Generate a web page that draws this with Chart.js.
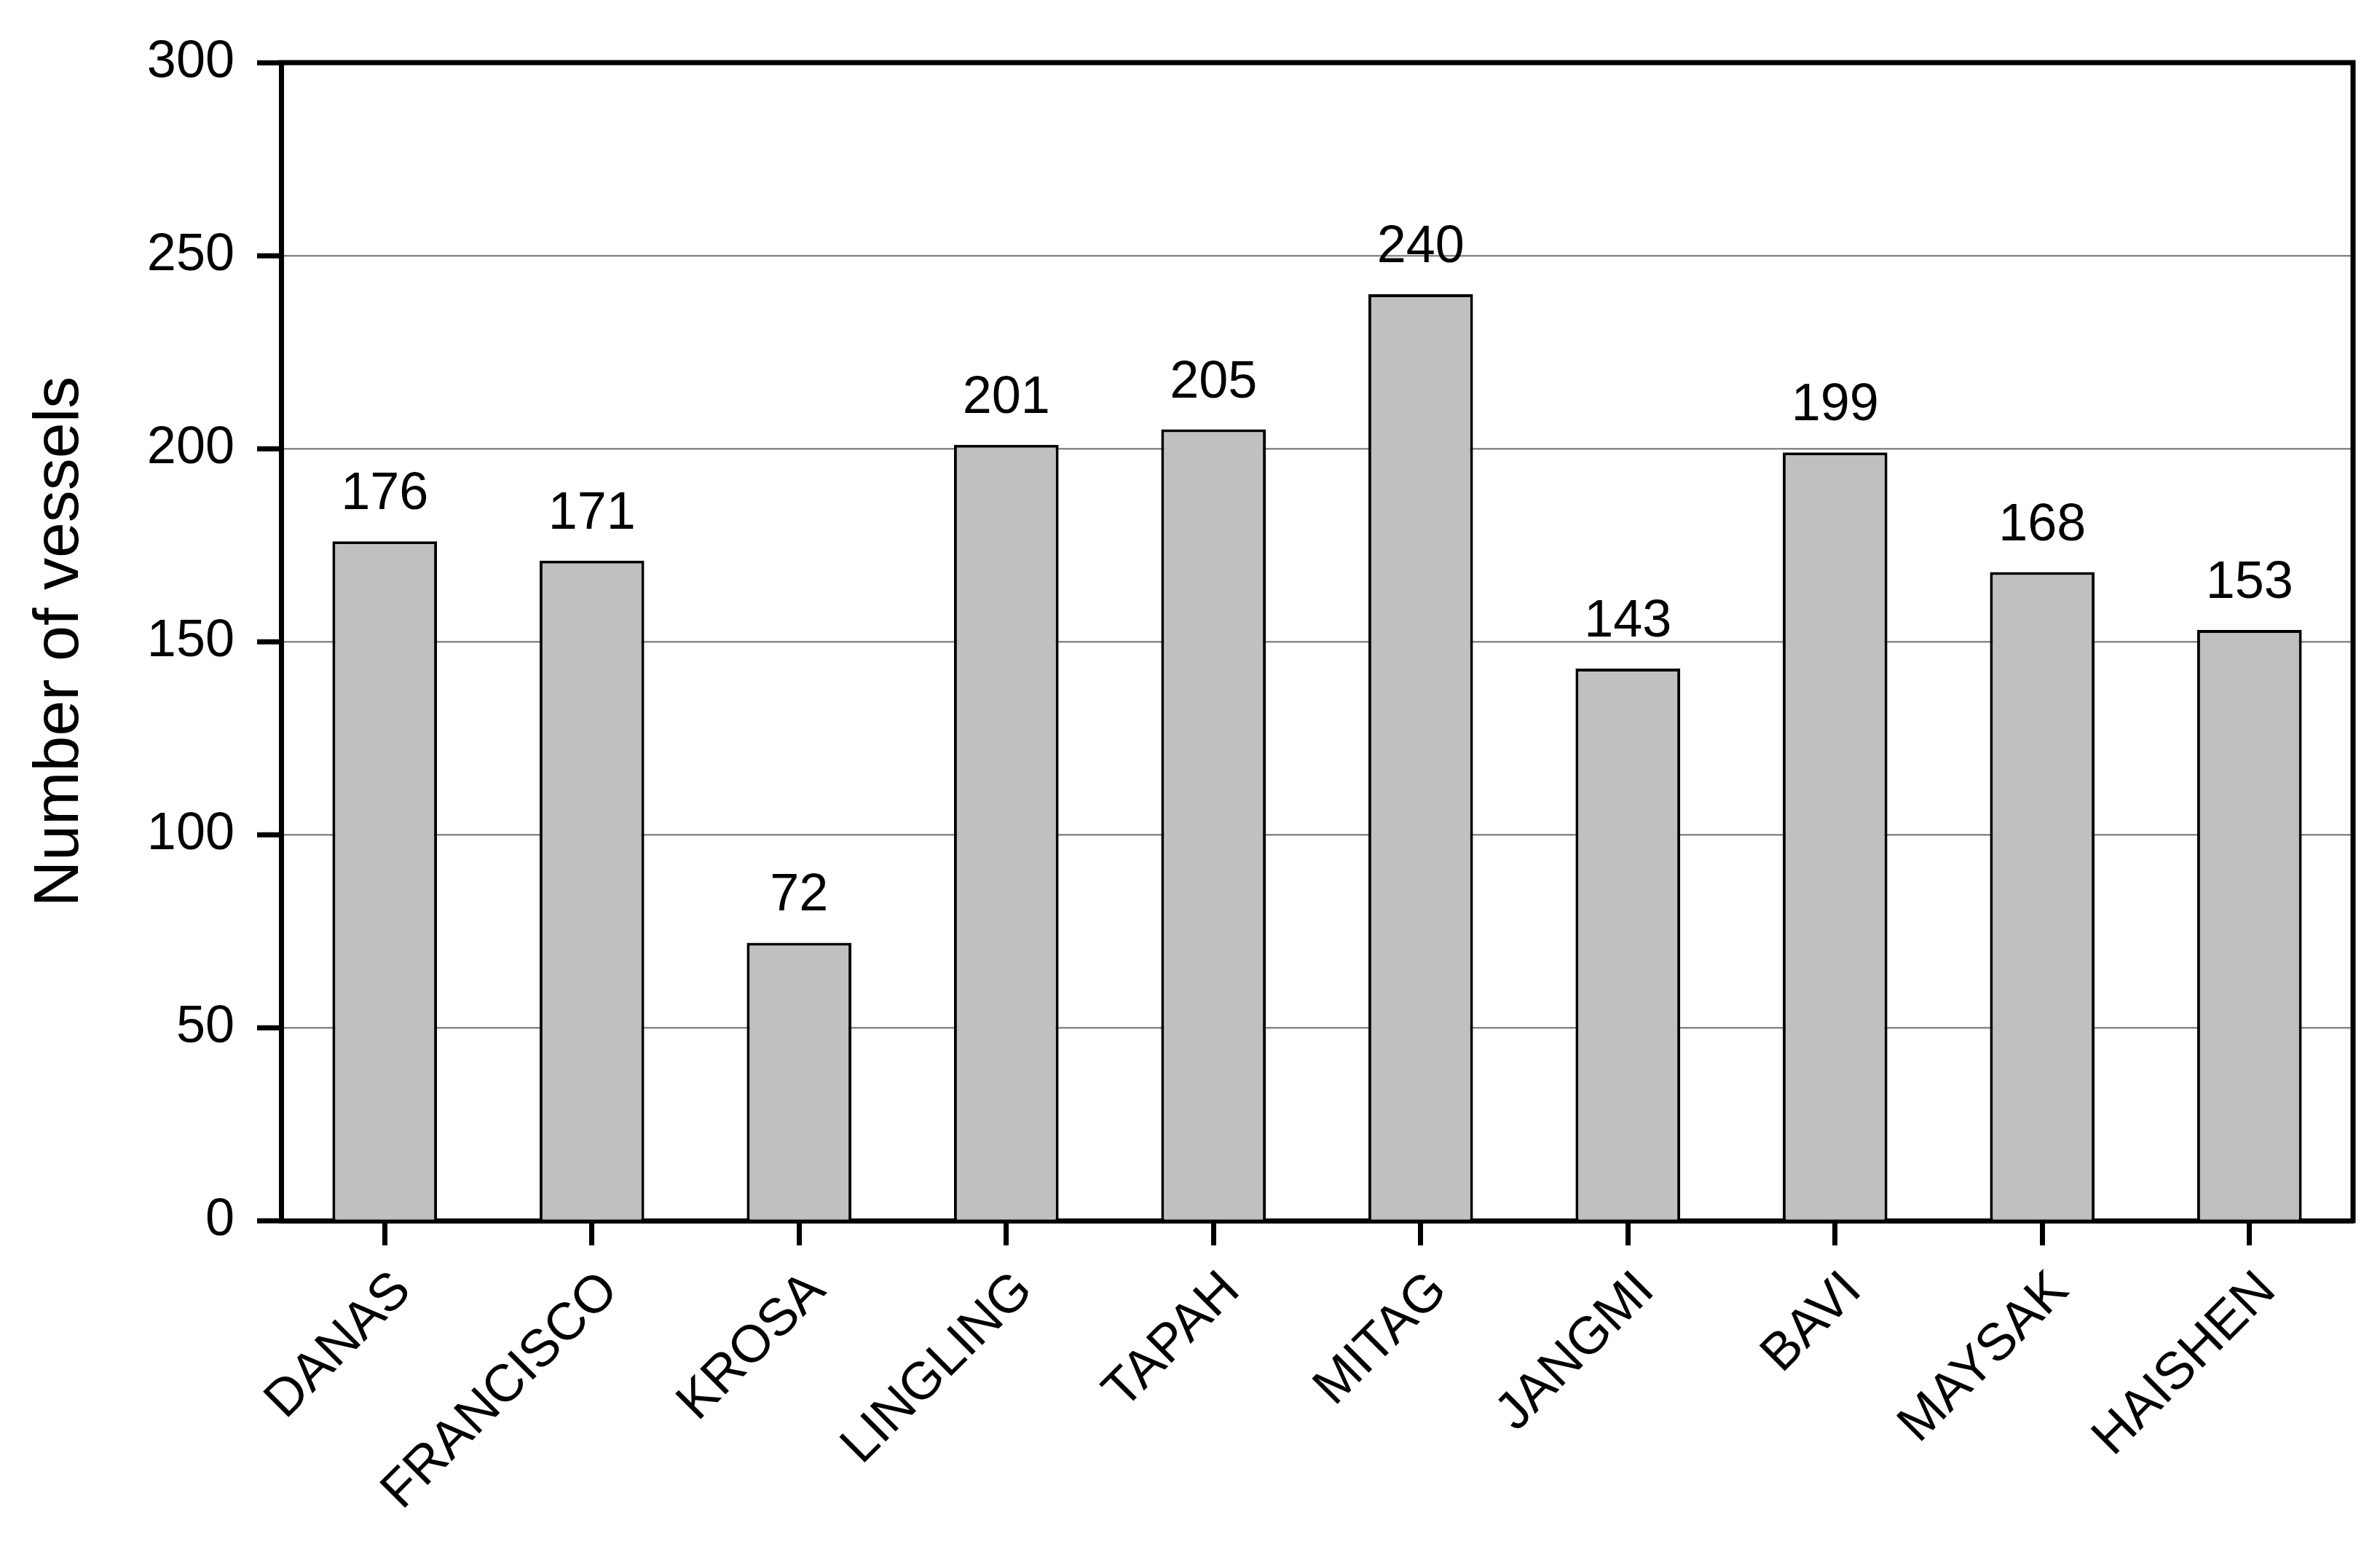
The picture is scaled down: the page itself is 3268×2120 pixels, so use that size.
<!DOCTYPE html>
<html>
<head>
<meta charset="utf-8">
<script src="https://cdn.jsdelivr.net/npm/chart.js@4/dist/chart.umd.min.js"></script>
<style>
  html, body { margin: 0; padding: 0; background: #ffffff; }
  #wrap { width: 3268px; height: 2120px; }
</style>
</head>
<body>
<div id="wrap"><canvas id="c" width="3268" height="2120"></canvas></div>
<script>
const categories = ["DANAS", "FRANCISCO", "KROSA", "LINGLING", "TAPAH", "MITAG", "JANGMI", "BAVI", "MAYSAK", "HAISHEN"];
const vessels = [176, 171, 72, 201, 205, 240, 143, 199, 168, 153];
const yTicks = [0, 50, 100, 150, 200, 250, 300];
const yTitle = "Number of vessels";

const FONT = "'Liberation Sans', Arial, Helvetica, sans-serif";

const frame = {
  id: 'frame',
  afterDatasetsDraw(chart) {
    const { ctx, chartArea: a } = chart;
    ctx.save();
    ctx.strokeStyle = '#000';
    ctx.lineWidth = 7;
    ctx.beginPath();
    ctx.moveTo(a.left - 3.5, a.top);
    ctx.lineTo(a.right, a.top);
    ctx.lineTo(a.right, a.bottom + 3.5);
    ctx.stroke();
    ctx.restore();
  }
};

const valueLabels = {
  id: 'valueLabels',
  afterDatasetsDraw(chart) {
    const { ctx } = chart;
    const meta = chart.getDatasetMeta(0);
    ctx.save();
    ctx.fillStyle = '#000';
    ctx.font = '72px ' + FONT;
    ctx.textAlign = 'center';
    ctx.textBaseline = 'alphabetic';
    meta.data.forEach((bar, i) => {
      ctx.fillText(String(chart.data.datasets[0].data[i]), bar.x, bar.y - 44);
    });
    ctx.restore();
  }
};

new Chart(document.getElementById('c'), {
  type: 'bar',
  data: {
    labels: categories,
    datasets: [{
      data: vessels,
      backgroundColor: '#c0c0c0',
      borderColor: '#000',
      borderWidth: 4,
      barPercentage: 0.505,
      categoryPercentage: 1.0
    }]
  },
  options: {
    responsive: false,
    animation: false,
    devicePixelRatio: 1,
    layout: { padding: { top: 86, right: 37, left: 0, bottom: 0 } },
    plugins: {
      legend: { display: false },
      tooltip: { enabled: false },
      title: { display: false }
    },
    scales: {
      x: {
        type: 'category',
        offset: true,
        grid: {
          offset: false,
          drawOnChartArea: false,
          drawTicks: true,
          tickLength: 34,
          tickWidth: 7,
          tickColor: '#000',
          color: '#000'
        },
        border: { display: true, color: '#000', width: 7 },
        ticks: {
          color: '#000',
          font: { family: FONT, size: 72, lineHeight: 1.2 },
          maxRotation: 45,
          minRotation: 45,
          padding: 20,
          labelOffset: 25,
          autoSkip: false
        },
        afterFit(scale) { scale.height = 444; }
      },
      y: {
        min: 0,
        max: 300,
        afterBuildTicks(scale) { scale.ticks = yTicks.map(v => ({ value: v })); },
        grid: {
          color: '#888888',
          lineWidth: 2.5,
          drawTicks: true,
          tickLength: 33,
          tickWidth: 7,
          tickColor: '#000'
        },
        border: { display: true, color: '#000', width: 7 },
        ticks: {
          color: '#000',
          font: { family: FONT, size: 72 },
          padding: 31
        },
        title: {
          display: true,
          text: yTitle,
          color: '#000',
          font: { family: FONT, size: 88 },
          padding: { top: 30, bottom: 0 }
        },
        afterFit(scale) { scale.width = 386; }
      }
    }
  },
  plugins: [frame, valueLabels]
});
</script>
</body>
</html>
